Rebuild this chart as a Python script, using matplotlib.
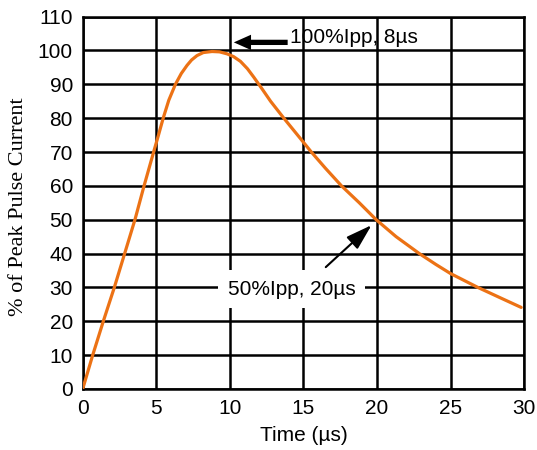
import matplotlib
matplotlib.use("Agg")
import matplotlib.pyplot as plt

# values
time_us = [0, 0.68, 1.40, 2.15, 2.85, 3.55, 4.17, 4.82, 5.15, 5.47, 5.85, 6.3, 6.7,
           7.09, 7.4, 7.77, 8.2, 8.79, 9.3, 9.82, 10.25, 10.72, 11.2, 11.63, 12.2,
           12.77, 13.67, 15.0, 15.54, 16.5, 17.59, 18.8, 19.95, 21.3, 22.88,
           24.0, 25.0, 26.86, 28.3, 29.8]
pct_peak = [0, 10, 20, 30, 40, 50, 60, 70, 75, 80, 85.3, 90, 93.2,
            95.6, 97.2, 98.5, 99.4, 99.7, 99.6, 99.0, 98.2, 96.8, 94.6, 92.1, 88.6,
            85.0, 80, 72.9, 70, 65.2, 60, 55.0, 50, 45.0, 40,
            36.8, 34.1, 30, 27.1, 24.1]

x_ticks = [0, 5, 10, 15, 20, 25, 30]
y_ticks = list(range(0, 111, 10))

orange = "#EC7215"
sans = "Liberation Sans"

fig = plt.figure(figsize=(5.37, 4.5), dpi=100)
ax = fig.add_axes([0.154, 0.1356, 0.822, 0.8274])

ax.plot(time_us, pct_peak, color=orange, lw=2.3, solid_capstyle="round",
        solid_joinstyle="round", zorder=3)

ax.set_xlim(0, 30)
ax.set_ylim(0, 110)
ax.set_xticks(x_ticks)
ax.set_yticks(y_ticks)
ax.grid(True, color="black", lw=1.8)
for s in ax.spines.values():
    s.set_color("black")
    s.set_linewidth(1.8)
ax.tick_params(length=0, pad=7, labelsize=15)
for lbl in ax.get_xticklabels() + ax.get_yticklabels():
    lbl.set_fontfamily(sans)

ax.set_xlabel("Time (\u00b5s)", fontsize=15, fontfamily=sans, labelpad=6)
ax.set_ylabel("% of Peak Pulse Current", fontsize=16, fontfamily="Liberation Serif")
ax.yaxis.set_label_coords(-0.124, 0.49)

# peak marker: thick block arrow pointing left
ax.text(14.08, 103.8, "100%Ipp, 8\u00b5s", fontsize=15, fontfamily=sans,
        va="center", ha="left")
ax.annotate("", xy=(10.27, 102.4), xytext=(13.93, 102.4),
            arrowprops=dict(arrowstyle="simple,head_length=0.62,head_width=0.55,tail_width=0.19",
                            mutation_scale=20, fc="black", ec="none",
                            shrinkA=0, shrinkB=0))

# half-value marker, text on white box over the grid
ax.text(14.2, 29.5, "50%Ipp, 20\u00b5s", fontsize=15, fontfamily=sans,
        va="center", ha="center", zorder=4,
        bbox=dict(boxstyle="square,pad=0.45", fc="white", ec="none"))
ax.annotate("", xy=(19.63, 48.4), xytext=(16.52, 36.0),
            arrowprops=dict(arrowstyle="-|>,head_length=0.8,head_width=0.25",
                            mutation_scale=20, lw=1.5, color="black",
                            shrinkA=0, shrinkB=0),
            zorder=4)

fig.savefig("out.png", dpi=100)
